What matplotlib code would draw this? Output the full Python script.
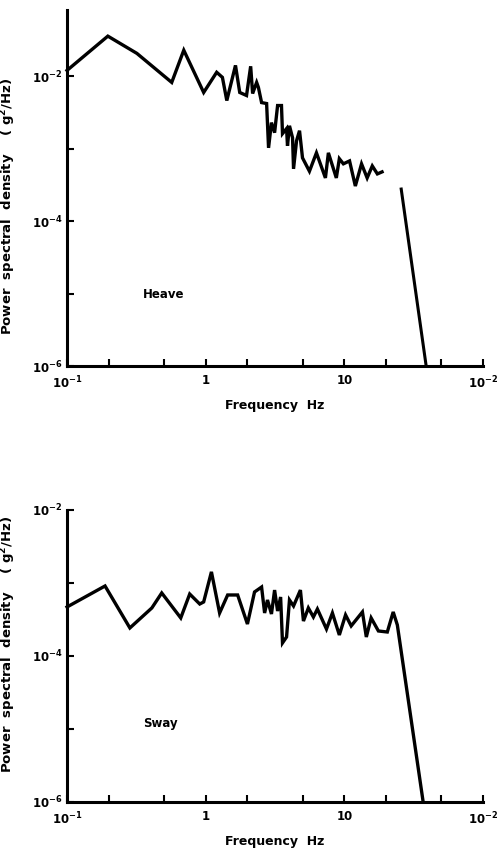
import matplotlib
matplotlib.use("Agg")
import matplotlib.pyplot as plt

# Heave spectrum (frequency in Hz, PSD in g^2/Hz)
heave_freq = [0.1, 0.197, 0.319, 0.569, 0.695, 0.967, 1.20, 1.32, 1.42, 1.64,
              1.76, 1.97, 2.11, 2.18, 2.33, 2.40, 2.53, 2.75, 2.84, 2.98,
              3.14, 3.30, 3.52, 3.58, 3.83, 3.89, 4.02, 4.23, 4.30, 4.52,
              4.75, 4.99, 5.60, 6.29, 7.30, 7.67, 8.75, 9.20, 9.84, 10.9,
              12.0, 13.3, 14.6, 15.9, 17.3, 18.7]
heave_psd = [1.21e-2, 3.6e-2, 2.08e-2, 8.26e-3, 2.30e-2, 6.0e-3, 1.14e-2, 9.7e-3, 4.64e-3, 1.42e-2,
             6.0e-3, 5.45e-3, 1.38e-2, 5.8e-3, 8.26e-3, 7.04e-3, 4.35e-3, 4.22e-3, 1.03e-3, 2.3e-3,
             1.67e-3, 3.96e-3, 3.96e-3, 1.62e-3, 1.9e-3, 1.1e-3, 2.08e-3, 1.42e-3, 5.28e-4, 1.29e-3,
             1.78e-3, 7.5e-4, 4.9e-4, 8.8e-4, 3.96e-4, 8.8e-4, 3.96e-4, 7.3e-4, 6.2e-4, 6.8e-4,
             3.06e-4, 6.2e-4, 3.96e-4, 5.8e-4, 4.5e-4, 4.8e-4]
heave_rolloff_freq = [25.7, 38.9]
heave_rolloff_psd = [2.78e-4, 1.0e-6]

# Sway spectrum
sway_freq = [0.1, 0.188, 0.284, 0.409, 0.482, 0.661, 0.767, 0.906, 0.967, 1.10,
             1.26, 1.44, 1.70, 2.00, 2.25, 2.53, 2.66, 2.79, 2.98, 3.14,
             3.30, 3.47, 3.58, 3.83, 4.02, 4.30, 4.82, 5.07, 5.50, 5.98,
             6.39, 7.43, 8.20, 9.20, 10.2, 11.2, 13.5, 14.4, 15.6, 17.6,
             20.4, 22.5, 24.1, 37.0]
sway_psd = [4.69e-4, 9.1e-4, 2.42e-4, 4.55e-4, 7.3e-4, 3.32e-4, 7.06e-4, 5.15e-4, 5.5e-4, 1.42e-3,
            3.88e-4, 6.85e-4, 6.85e-4, 2.74e-4, 7.53e-4, 8.8e-4, 3.88e-4, 5.85e-4, 3.76e-4, 8.0e-4,
            4.13e-4, 6.43e-4, 1.51e-4, 1.82e-4, 5.85e-4, 4.84e-4, 8.0e-4, 3.01e-4, 4.55e-4, 3.42e-4,
            4.4e-4, 2.34e-4, 3.88e-4, 1.94e-4, 3.65e-4, 2.58e-4, 4.01e-4, 1.82e-4, 3.32e-4, 2.2e-4,
            2.13e-4, 4.01e-4, 2.66e-4, 1.0e-6]

x_ticks = [0.1, 1, 10, 100]
x_tick_labels = ["10$^{-1}$", "1", "10", "10$^{-2}$"]
x_minor = [0.2, 0.5, 2, 5, 20, 50]
y_ticks = [1e-2, 1e-3, 1e-4, 1e-5, 1e-6]
y_tick_labels = ["10$^{-2}$", "", "10$^{-4}$", "", "10$^{-6}$"]

plt.rcParams["font.family"] = "DejaVu Sans"
plt.rcParams["font.weight"] = "bold"
plt.rcParams["mathtext.default"] = "bf"

fig = plt.figure(figsize=(4.99, 8.49), dpi=100)
ax_top = fig.add_axes([0.1343, 0.5689, 0.8337, 0.4193])
ax_bot = fig.add_axes([0.1343, 0.0554, 0.8337, 0.3439])


def style_axis(ax, ytop, label, label_pos, ylabel_y):
    ax.set_xscale("log")
    ax.set_yscale("log")
    ax.set_xlim(0.1, 100)
    ax.set_ylim(1e-6, ytop)
    for s in ("top", "right"):
        ax.spines[s].set_visible(False)
    for s in ("left", "bottom"):
        ax.spines[s].set_linewidth(2.2)
    ax.set_xticks(x_ticks)
    ax.set_xticklabels(x_tick_labels)
    ax.set_xticks(x_minor, minor=True)
    ax.set_xticklabels([], minor=True)
    ax.set_yticks(y_ticks)
    ax.set_yticklabels(y_tick_labels)
    ax.set_yticks([], minor=True)
    ax.tick_params(which="both", direction="in", length=5, width=1.5)
    ax.tick_params(axis="x", which="major", pad=6, labelsize=8.5)
    ax.tick_params(axis="y", which="major", pad=3, labelsize=8.5)
    ax.set_xlabel("Frequency  Hz", fontsize=9, fontweight="bold", labelpad=6)
    ax.set_ylabel("Power  spectral  density    ( g$^{2}$/Hz)", fontsize=9.5,
                  fontweight="bold")
    ax.yaxis.set_label_coords(-0.117, ylabel_y)
    ax.text(label_pos[0], label_pos[1], label, transform=ax.transAxes,
            fontsize=8.5, fontweight="bold", ha="left", va="center")


style_axis(ax_top, 10 ** -1.083, "Heave", (0.182, 0.2), 0.447)
style_axis(ax_bot, 1e-2, "Sway", (0.182, 0.27), 0.541)

ax_top.plot(heave_freq, heave_psd, color="black", lw=2.4, solid_joinstyle="miter")
ax_top.plot(heave_rolloff_freq, heave_rolloff_psd, color="black", lw=2.2)
ax_bot.plot(sway_freq, sway_psd, color="black", lw=2.4, solid_joinstyle="miter")

for ax in (ax_top, ax_bot):
    for line in ax.lines:
        line.set_clip_on(False)

fig.savefig("out.png", dpi=100)
